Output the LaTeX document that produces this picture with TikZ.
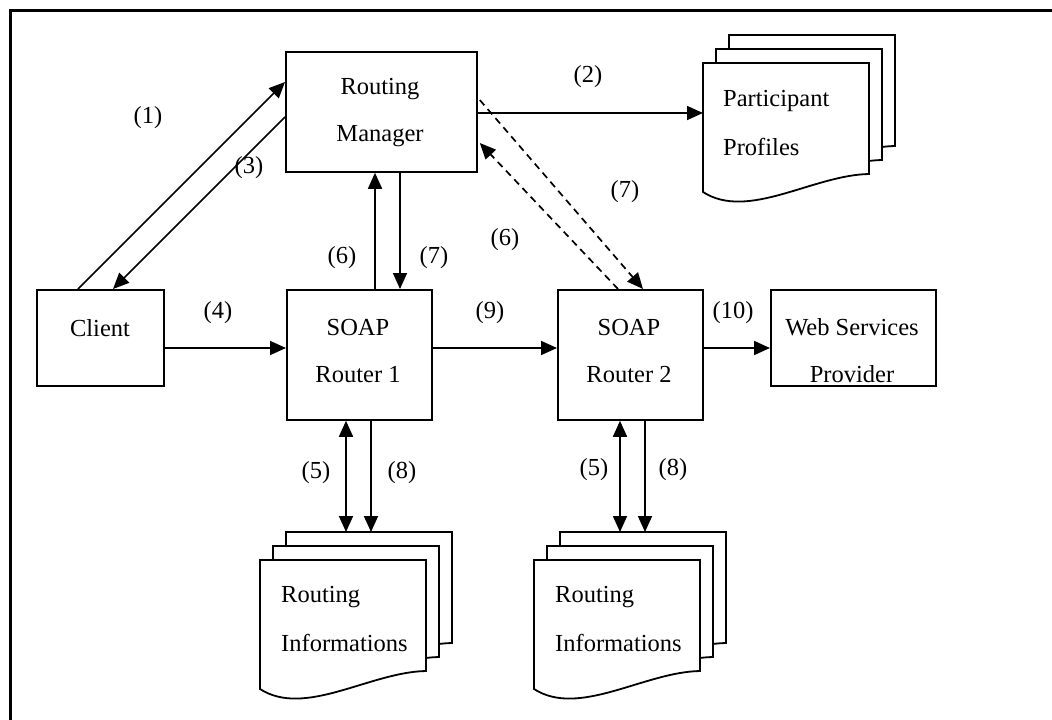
\documentclass[tikz,border=0pt]{standalone}
\usepackage{fontspec}
\setmainfont{Liberation Serif}
\usetikzlibrary{arrows.meta,calc}

% one stacked sheet of a multi-document symbol, #1 = its top-left corner
\newcommand{\docsheet}[1]{%
  \draw[sheet] (#1) -- ($(#1)+(166,0)$) -- ($(#1)+(166,111)$)
    .. controls ($(#1)+(110,112)$) and ($(#1)+(45,158)$) .. ($(#1)+(0,129)$) -- cycle;}

\begin{document}
\begin{tikzpicture}[x=1pt,y=-1pt,
  every node/.style={inner sep=0pt},
  txt/.style={font=\fontsize{24.5}{47}\selectfont, align=center},
  doctxt/.style={font=\fontsize{24.5}{49}\selectfont, align=left, anchor=west},
  lab/.style={font=\fontsize{24.5}{30}\selectfont},
  box/.style={draw, line width=1.8pt, anchor=north west, fill=white},
  sheet/.style={draw, line width=1.8pt, fill=white},
  tip/.tip={Triangle[length=16pt,width=14pt]},
  arr/.style={-tip, line width=1.7pt},
  dbl/.style={tip-tip, line width=1.7pt},
  dsh/.style={-tip, line width=1.7pt, dash pattern=on 7pt off 5pt}]

\useasboundingbox (0,0) rectangle (1052,720);

% page frame (top and left rules)
\draw[line width=3pt] (10,721) -- (10,10) -- (1053,10);

% process boxes
\node[box, minimum width=127pt, minimum height=96pt]  (client) at (36,289)  {};
\node[box, minimum width=191pt, minimum height=120pt] (rm)     at (285,51)  {};
\node[box, minimum width=145pt, minimum height=130pt] (sr1)    at (286,289) {};
\node[box, minimum width=145pt, minimum height=130pt] (sr2)    at (557,289) {};
\node[box, minimum width=165pt, minimum height=96pt]  (wsp)    at (770,289) {};

\node[txt] (clientt) at (100,328) {Client};
\node[txt] (rmt)  at (380,113) {Routing\\Manager};
\node[txt] (sr1t) at (358,351) {SOAP\\Router 1};
\node[txt] (sr2t) at (629,351) {SOAP\\Router 2};
\node[txt] (wspt) at (852,351) {Web Services\\Provider};

% document stacks
\coordinate (pp)  at (703,63);
\coordinate (ri1) at (260,560);
\coordinate (ri2) at (534,560);
\foreach \d in {pp,ri1,ri2}{
  \docsheet{$(\d)+(26,-28)$}
  \docsheet{$(\d)+(13,-14)$}
  \docsheet{\d}
}
\node[doctxt] (ppt)  at ($(pp)+(20,60)$)  {Participant\\Profiles};
\node[doctxt] (ri1t) at ($(ri1)+(21,59)$) {Routing\\Informations};
\node[doctxt] (ri2t) at ($(ri2)+(21,59)$) {Routing\\Informations};

% connectors
\draw[arr] ($(client.north west)+(42,0)$) -- ($(rm.north west)+(0,31)$);
\draw[arr] ($(rm.north west)+(0,66)$) -- ($(client.north west)+(77,0)$);
\draw[arr] ($(rm.north east)+(0,62)$) -- ($(pp)+(0,50)$);
\draw[arr] ($(client.north east)+(0,59)$) -- ($(sr1.north west)+(0,59)$);
\draw[arr] ($(sr1.north east)+(0,59)$) -- ($(sr2.north west)+(0,59)$);
\draw[arr] ($(sr2.north east)+(0,59)$) -- ($(wsp.north west)+(0,59)$);
\draw[arr] ($(sr1.north west)+(89,0)$) -- ($(rm.south west)+(90,0)$);
\draw[arr] ($(rm.south west)+(115,0)$) -- ($(sr1.north west)+(114,0)$);
\draw[dsh] ($(sr2.north west)+(61,0)$) -- ($(rm.north east)+(2,92)$);
\draw[dsh] ($(rm.north east)+(2,49)$) -- ($(sr2.north west)+(86,0)$);
\draw[dbl] ($(sr1.south west)+(60,0)$) -- ($(ri1)+(86,-28)$);
\draw[arr] ($(sr1.south west)+(85,0)$) -- ($(ri1)+(111,-28)$);
\draw[dbl] ($(sr2.south west)+(63,0)$) -- ($(ri2)+(86,-28)$);
\draw[arr] ($(sr2.south west)+(88,0)$) -- ($(ri2)+(111,-28)$);

% step labels
\node[lab] (l1)  at (148,118) {(1)};
\node[lab] (l2)  at (588,77)  {(2)};
\node[lab] (l3)  at (249,168) {(3)};
\node[lab] (l4)  at (218,313) {(4)};
\node[lab] (l6a) at (342,258) {(6)};
\node[lab] (l7a) at (434,258) {(7)};
\node[lab] (l6b) at (505,240) {(6)};
\node[lab] (l7b) at (625,192) {(7)};
\node[lab] (l9)  at (490,313) {(9)};
\node[lab] (l10) at (733,313) {(10)};
\node[lab] (l5a) at (316,473) {(5)};
\node[lab] (l8a) at (402,473) {(8)};
\node[lab] (l5b) at (594,470) {(5)};
\node[lab] (l8b) at (673,470) {(8)};
\end{tikzpicture}
\end{document}
